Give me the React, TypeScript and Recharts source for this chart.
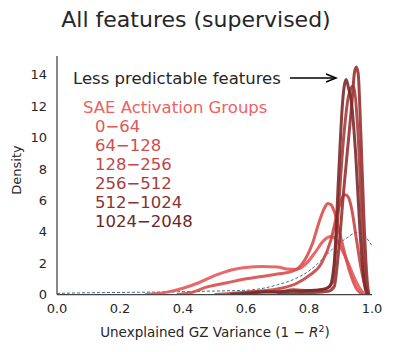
import React from 'react';
import { LineChart, Line, XAxis, YAxis } from 'recharts';

const FONT = '"DejaVu Sans", sans-serif';
const TEXT = '#262626';

const xTicks = [0, 0.2, 0.4, 0.6, 0.8, 1.0];
const yTicks = [0, 2, 4, 6, 8, 10, 12, 14];

const groupLabels = ['0−64', '64−128', '128−256', '256−512', '512−1024', '1024−2048'];
const groupColors = ['#e8575a', '#d94d4d', '#c84545', '#a93b3b', '#963232', '#7a2a2a'];
const legendTextColors = ['#e05656', '#d24c4c', '#c34545', '#a83c3c', '#8c3131', '#6c2727'];

// Overall distribution (dashed)
const allX = [0, 0.1, 0.2, 0.3, 0.4, 0.5, 0.6, 0.65, 0.7, 0.75, 0.8, 0.85, 0.88, 0.92, 0.95, 0.97, 0.99, 1.0];
const allY = [0.07, 0.11, 0.13, 0.15, 0.18, 0.22, 0.27, 0.38, 0.62, 0.95, 1.5, 2.4, 3.0, 3.6, 3.95, 3.85, 3.4, 3.1];

const g0X = [0.28, 0.35, 0.4, 0.45, 0.5, 0.55, 0.6, 0.65, 0.7, 0.73, 0.76, 0.79, 0.82, 0.845, 0.86, 0.87, 0.88, 0.895, 0.92, 0.95, 0.97, 0.98];
const g0Y = [0, 0.15, 0.4, 0.75, 1.2, 1.55, 1.72, 1.78, 1.75, 1.62, 1.6, 1.95, 2.7, 3.4, 3.64, 3.7, 3.62, 3.2, 2.2, 0.8, 0.15, 0];

const g1X = [0.38, 0.42, 0.48, 0.54, 0.6, 0.65, 0.7, 0.75, 0.78, 0.81, 0.835, 0.85, 0.86, 0.87, 0.88, 0.9, 0.93, 0.95, 0.97];
const g1Y = [0, 0.1, 0.5, 0.75, 1.0, 1.15, 1.3, 1.5, 2.0, 3.2, 4.8, 5.55, 5.8, 5.72, 5.3, 3.7, 1.4, 0.4, 0];

const g2X = [0.5, 0.6, 0.7, 0.76, 0.8, 0.84, 0.87, 0.89, 0.905, 0.915, 0.925, 0.935, 0.95, 0.965, 0.98, 0.99];
const g2Y = [0, 0.15, 0.35, 0.7, 1.2, 2.0, 3.5, 5.2, 6.15, 6.35, 6.2, 5.5, 3.6, 1.7, 0.4, 0];

const g3X = [0.6, 0.65, 0.7, 0.75, 0.8, 0.85, 0.875, 0.89, 0.91, 0.925, 0.94, 0.955, 0.97, 0.98, 0.99];
const g3Y = [0, 0.2, 0.15, 0.3, 0.25, 0.35, 0.8, 4.5, 10, 12.6, 13.3, 10.5, 4, 0.8, 0];

const g4X = [0.7, 0.8, 0.86, 0.88, 0.895, 0.91, 0.925, 0.937, 0.944, 0.95, 0.956, 0.965, 0.975, 0.985, 0.99];
const g4Y = [0, 0.1, 0.2, 0.5, 3, 6.6, 9.8, 12.4, 14.1, 14.5, 14.1, 10, 4.5, 0.8, 0];

const g5X = [0.55, 0.65, 0.75, 0.84, 0.865, 0.88, 0.895, 0.905, 0.912, 0.918, 0.925, 0.935, 0.948, 0.962, 0.975, 0.985];
const g5Y = [0, 0.15, 0.2, 0.3, 0.5, 2.0, 8, 11.8, 13.3, 13.7, 13.2, 12.2, 9, 4, 0.8, 0];

const toPts = (xs: number[], ys: number[]) => xs.map((x, i) => ({ x, y: ys[i] }));

const groups = [
  toPts(g0X, g0Y),
  toPts(g1X, g1Y),
  toPts(g2X, g2Y),
  toPts(g3X, g3Y),
  toPts(g4X, g4Y),
  toPts(g5X, g5Y),
];
const allPts = toPts(allX, allY);

export default function App() {
  return (
    <div style={{ position: 'absolute', left: 0, top: 0, width: 393, height: 352, background: '#fff' }}>
      <LineChart width={393} height={352} margin={{ top: 56, right: 21, left: 0, bottom: 0 }}>
        <XAxis
          type="number"
          dataKey="x"
          domain={[0, 1]}
          ticks={xTicks}
          allowDataOverflow
          tickFormatter={(v: number) => v.toFixed(1)}
          height={57.5}
          tickLine={false}
          tickSize={0}
          tickMargin={9}
          axisLine={{ stroke: '#444', strokeWidth: 1.25 }}
          tick={{ fill: TEXT, fontSize: 13, fontFamily: FONT }}
        />
        <YAxis
          type="number"
          domain={[0, 15.2]}
          ticks={yTicks}
          allowDataOverflow
          width={57}
          tickLine={false}
          tickSize={0}
          tickMargin={10}
          axisLine={{ stroke: '#444', strokeWidth: 1.25 }}
          tick={{ fill: TEXT, fontSize: 13, fontFamily: FONT }}
        />
        <Line
          data={allPts}
          dataKey="y"
          type="monotone"
          dot={false}
          stroke="#3b6e8c"
          strokeWidth={1}
          strokeDasharray="3 2"
          isAnimationActive={false}
        />
        {groups.map((pts, i) => (
          <Line
            key={groupLabels[i]}
            data={pts}
            dataKey="y"
            type="monotone"
            dot={false}
            stroke={groupColors[i]}
            strokeWidth={3}
            strokeOpacity={0.9}
            isAnimationActive={false}
          />
        ))}
      </LineChart>
      <svg
        width={393}
        height={352}
        style={{ position: 'absolute', left: 0, top: 0, pointerEvents: 'none' }}
        fontFamily={FONT}
      >
        <text x={196} y={27} textAnchor="middle" fontSize={22} fill={TEXT}>
          All features (supervised)
        </text>
        <text x={73} y={84} fontSize={16.5} fill={TEXT}>
          Less predictable features
        </text>
        <line x1={290} y1={78} x2={335} y2={78} stroke="#000" strokeWidth={1.5} />
        <path d="M326,74 L336,78 L326,82" fill="none" stroke="#000" strokeWidth={1.5} />
        <text x={83} y={113} fontSize={16.5} fill="#f06060">
          SAE Activation Groups
        </text>
        {groupLabels.map((g, i) => (
          <text key={g} x={95} y={132 + i * 19} fontSize={16.5} fill={legendTextColors[i]}>
            {g}
          </text>
        ))}
        <text x={16.5} y={170} transform="rotate(-90 16.5 170)" textAnchor="middle" dominantBaseline="central" fontSize={13} fill={TEXT}>
          Density
        </text>
        <text x={215} y={337} textAnchor="middle" fontSize={13.5} fill={TEXT}>
          Unexplained GZ Variance (1 − <tspan fontStyle="italic">R</tspan>
          <tspan fontSize={9.5} dy={-5}>2</tspan>
          <tspan dy={5}>)</tspan>
        </text>
      </svg>
    </div>
  );
}
